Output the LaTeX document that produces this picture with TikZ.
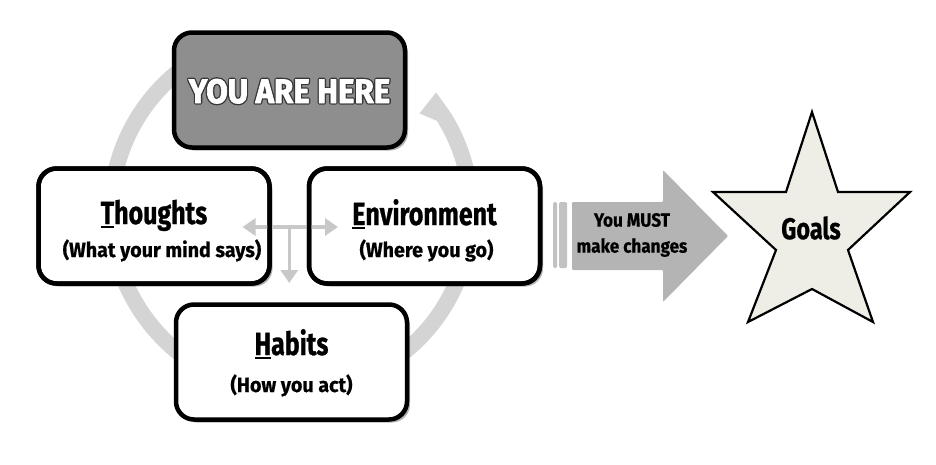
\documentclass[tikz,border=0pt]{standalone}
\usepackage{fontspec}
\setmainfont{Fira Sans}
\newfontfamily\titlefont[FakeStretch=0.78,FakeBold=0.8]{Fira Sans}
\newfontfamily\herefont[FakeStretch=0.92]{Fira Sans}
\newfontfamily\subfont[FakeStretch=0.96,FakeBold=0.6]{Fira Sans}
\newfontfamily\arrowfont[FakeStretch=0.9,FakeBold=0.6]{Fira Sans}
\usetikzlibrary{arrows.meta,shadows,calc}

\definecolor{ringgray}{HTML}{D4D4D4}
\definecolor{herefill}{HTML}{8E8E8E}
\definecolor{arrowgray}{HTML}{B4B4B4}
\definecolor{bargray}{HTML}{C2C2C2}
\definecolor{linkgray}{HTML}{C8C8C8}
\definecolor{starfill}{HTML}{EFEEE6}

% thick underline under the first letter of a title
\newcommand\firstletter[1]{\setbox0=\hbox{#1}\rlap{\rule[-4pt]{\wd0}{2.4pt}}\box0}
% white letters on a dark stroked halo
\newcommand\outlined[1]{%
  \rlap{\special{pdf:literal direct 2 Tr 3.4 w 1 j 0.22 0.22 0.22 rg 0.22 0.22 0.22 RG}#1}%
  \special{pdf:literal direct 2 Tr 0.7 w 1 j 1 1 1 rg 1 1 1 RG}#1%
  \special{pdf:literal direct 0 Tr}}

\tikzset{
  boxline/.style={draw=black, line width=4.5pt, rounded corners=18pt},
  stagebox/.style={boxline, fill=white, minimum width=231pt, minimum height=115pt,
    outer sep=0pt, inner sep=0pt,
    drop shadow={shadow xshift=3pt, shadow yshift=-3pt, opacity=0.3, fill=black}},
  herebox/.style={stagebox, fill=herefill},
  ttl/.style={anchor=base, inner sep=0pt, font=\titlefont\bfseries\fontsize{32}{36}\selectfont},
  subttl/.style={anchor=base, inner sep=0pt, font=\subfont\bfseries\fontsize{20.5}{22}\selectfont},
  ring/.style={draw=ringgray, line width=16pt},
  link/.style={draw=linkgray, line width=3.5pt, -{Triangle[width=17pt,length=13pt]}},
}

\begin{document}
\begin{tikzpicture}[x=1pt,y=-1pt]
\useasboundingbox[fill=white] (0,0) rectangle (936,464);

% the cycle ring behind the boxes
\coordinate (ringc) at (291,212);
\draw[ring] ($(ringc)+(235:180)$) arc[start angle=235, end angle=-32, radius=180];
\fill[ringgray] ($(ringc)+(-39.5:188)$) -- ($(ringc)+(-37.5:162)$)
  -- ($(ringc)+(-32:172)$) -- ($(ringc)+(-32:188)$) -- cycle;

% the four stages
\node[herebox] (here) at (289.5,90) {};
\node[stagebox] (thoughts) at (154,226) {};
\node[stagebox] (environment) at (424.5,226) {};
\node[stagebox] (habits) at (291.5,362) {};

\node[anchor=base, inner sep=0pt, text=white,
      font=\herefont\bfseries\fontsize{34}{38}\selectfont]
  (here-title) at ([yshift=-13pt]here.center) {\outlined{YOU ARE HERE}};

\node[ttl] (thoughts-title) at ([yshift=2pt]thoughts.center) {\firstletter{T}houghts};
\node[subttl] (thoughts-sub) at ([xshift=8pt,yshift=-31pt]thoughts.center) {(What your mind says)};

\node[ttl] (environment-title) at ([yshift=1pt]environment.center) {\firstletter{E}nvironment};
\node[subttl] (environment-sub) at ([xshift=2pt,yshift=-31pt]environment.center) {(Where you go)};

\node[ttl] (habits-title) at ([yshift=7pt]habits.center) {\firstletter{H}abits};
\node[subttl] (habits-sub) at ([yshift=-30pt]habits.center) {(How you act)};

% links between thoughts and environment, and down to habits
\coordinate (split) at ($(thoughts.east)!0.5!(environment.west)$);
\draw[link] ([yshift=-1pt]split) -- ([xshift=-27pt,yshift=-1pt]thoughts.east);
\draw[link] ([yshift=-1pt]split) -- ([xshift=29pt,yshift=-1pt]environment.west);
\draw[link] ([yshift=-1pt]split) -- ([yshift=-57pt]split);
\draw[boxline] (thoughts.north west) rectangle (thoughts.south east);
\draw[boxline] (environment.north west) rectangle (environment.south east);

% the change arrow
\fill[bargray, rounded corners=1.5pt] (553,202) rectangle (557,268);
\fill[bargray, rounded corners=1.5pt] (559,202) rectangle (567,268);
\fill[arrowgray, rounded corners=1pt] (572,202) -- (663,202) -- (663,170) -- (728,236)
  -- (663,302) -- (663,270) -- (572,270) -- cycle;
\node[align=center, inner sep=0pt, font=\arrowfont\bfseries\fontsize{19}{26}\selectfont]
  (changes) at (632,235) {You MUST\\make changes};

% the goal star
\draw[fill=starfill, line width=2.2pt, line join=miter]
  (812,112) -- (838,192) -- (910,192) -- (848,250) -- (873,322) -- (812,289)
  -- (748,322) -- (776,250) -- (713,192) -- (786,192) -- cycle;
\node[inner sep=0pt, font=\titlefont\bfseries\fontsize{30}{34}\selectfont]
  (goals) at (811,228) {Goals};
\end{tikzpicture}
\end{document}
